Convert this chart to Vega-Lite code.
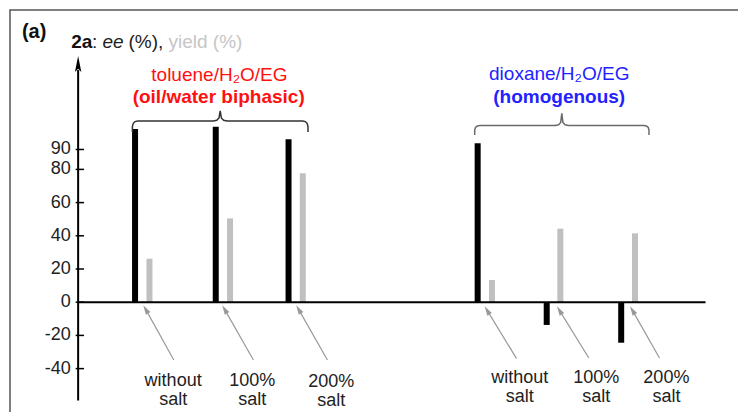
{
  "$schema": "https://vega.github.io/schema/vega-lite/v6.json",
  "width": 740,
  "height": 410,
  "padding": {"left": 10, "top": 10, "right": 0, "bottom": 0},
  "background": "white",
  "config": {"view": {"stroke": "#555555", "strokeWidth": 1.5}, "font": "Liberation Sans"},
  "data": {"values": [{}]},
  "datasets": {
    "bars": [
      {"solvent": "toluene/H2O/EG", "cond": "without salt", "metric": "ee", "value": 104.3, "pos": 57.7},
      {"solvent": "toluene/H2O/EG", "cond": "without salt", "metric": "yield", "value": 26.2, "pos": 72.3},
      {"solvent": "toluene/H2O/EG", "cond": "100% salt", "metric": "ee", "value": 105.7, "pos": 139.5},
      {"solvent": "toluene/H2O/EG", "cond": "100% salt", "metric": "yield", "value": 50.5, "pos": 154},
      {"solvent": "toluene/H2O/EG", "cond": "200% salt", "metric": "ee", "value": 98.1, "pos": 213.3},
      {"solvent": "toluene/H2O/EG", "cond": "200% salt", "metric": "yield", "value": 77.7, "pos": 227.7},
      {"solvent": "dioxane/H2O/EG", "cond": "without salt", "metric": "ee", "value": 95.7, "pos": 405},
      {"solvent": "dioxane/H2O/EG", "cond": "without salt", "metric": "yield", "value": 13.4, "pos": 419.5},
      {"solvent": "dioxane/H2O/EG", "cond": "100% salt", "metric": "ee", "value": -13.7, "pos": 475},
      {"solvent": "dioxane/H2O/EG", "cond": "100% salt", "metric": "yield", "value": 44.3, "pos": 488.8},
      {"solvent": "dioxane/H2O/EG", "cond": "200% salt", "metric": "ee", "value": -24.4, "pos": 550.5},
      {"solvent": "dioxane/H2O/EG", "cond": "200% salt", "metric": "yield", "value": 41.5, "pos": 564.5}
    ],
    "ticks": [
      {"v": -40, "t": "-40"}, {"v": -20, "t": "-20"}, {"v": 0, "t": "0"}, {"v": 20, "t": "20"},
      {"v": 40, "t": "40"}, {"v": 60, "t": "60"}, {"v": 80, "t": "80"}, {"v": 92, "t": "90"}
    ],
    "arrows": [
      {"x": 97, "y": -34.8, "x2": 68.5, "y2": -4.3},
      {"x": 177.7, "y": -34.8, "x2": 148.5, "y2": -4.3},
      {"x": 252.7, "y": -34.8, "x2": 223.5, "y2": -4.3},
      {"x": 444.3, "y": -33.8, "x2": 414.6, "y2": -4.9},
      {"x": 517.7, "y": -33.6, "x2": 487.9, "y2": -4.9},
      {"x": 589.3, "y": -33.6, "x2": 561.9, "y2": -4.9}
    ],
    "labels": [
      {"t": "without\nsalt", "x": 96.3, "y": -50.7},
      {"t": "100%\nsalt", "x": 176.5, "y": -50.7},
      {"t": "200%\nsalt", "x": 256.5, "y": -51.3},
      {"t": "without\nsalt", "x": 447.7, "y": -48.9},
      {"t": "100%\nsalt", "x": 525.3, "y": -48.9},
      {"t": "200%\nsalt", "x": 596.3, "y": -48.9}
    ],
    "braceL": [
      {"i": 0, "x": 55, "y": 102.5}, {"i": 1, "x": 55, "y": 105.8}, {"i": 2, "x": 55.8, "y": 107.6},
      {"i": 3, "x": 57.6, "y": 108.8}, {"i": 4, "x": 60.5, "y": 109.16}, {"i": 5, "x": 137, "y": 109.16},
      {"i": 6, "x": 140.5, "y": 109.6}, {"i": 7, "x": 142.8, "y": 111}, {"i": 8, "x": 144, "y": 115.2},
      {"i": 9, "x": 145.2, "y": 111}, {"i": 10, "x": 147.5, "y": 109.6}, {"i": 11, "x": 151, "y": 109.16},
      {"i": 12, "x": 227.5, "y": 109.16}, {"i": 13, "x": 230.4, "y": 108.8}, {"i": 14, "x": 232.2, "y": 107.6},
      {"i": 15, "x": 233, "y": 105.8}, {"i": 16, "x": 233, "y": 102.5}
    ],
    "braceR": [
      {"i": 0, "x": 402, "y": 100.7}, {"i": 1, "x": 402, "y": 103.6}, {"i": 2, "x": 402.8, "y": 105.3},
      {"i": 3, "x": 404.6, "y": 106.1}, {"i": 4, "x": 407.5, "y": 106.4}, {"i": 5, "x": 483.5, "y": 106.4},
      {"i": 6, "x": 487, "y": 106.9}, {"i": 7, "x": 489.2, "y": 108.3}, {"i": 8, "x": 490.3, "y": 113.7},
      {"i": 9, "x": 491.4, "y": 108.3}, {"i": 10, "x": 493.6, "y": 106.9}, {"i": 11, "x": 497, "y": 106.4},
      {"i": 12, "x": 573.2, "y": 106.4}, {"i": 13, "x": 576.1, "y": 106.1}, {"i": 14, "x": 577.9, "y": 105.3},
      {"i": 15, "x": 578.7, "y": 103.6}, {"i": 16, "x": 578.7, "y": 100.7}
    ]
  },
  "layer": [
    {
      "data": {"name": "bars"},
      "mark": {"type": "bar", "size": 6, "orient": "vertical"},
      "encoding": {
        "x": {"field": "pos", "type": "quantitative", "scale": {"domain": [-64, 676], "nice": false, "zero": false}, "axis": null},
        "y": {"field": "value", "type": "quantitative", "scale": {"domain": [-70.96, 176.02], "nice": false, "zero": false}, "axis": null},
        "y2": {"datum": 0},
        "color": {"field": "metric", "type": "nominal", "scale": {"domain": ["ee", "yield"], "range": ["#000000", "#c0c0c0"]}, "legend": null}
      }
    },
    {
      "mark": {"type": "rule", "color": "#000000", "strokeWidth": 2},
      "encoding": {
        "x": {"datum": 0, "type": "quantitative", "scale": {"domain": [-64, 676], "nice": false, "zero": false}, "axis": null},
        "y": {"datum": -59.2, "type": "quantitative", "scale": {"domain": [-70.96, 176.02], "nice": false, "zero": false}, "axis": null},
        "y2": {"datum": 139.9}
      }
    },
    {
      "mark": {"type": "rule", "color": "#000000", "strokeWidth": 2},
      "encoding": {
        "x": {"datum": 0, "type": "quantitative", "scale": {"domain": [-64, 676], "nice": false, "zero": false}, "axis": null},
        "x2": {"datum": 636},
        "y": {"datum": 0, "type": "quantitative", "scale": {"domain": [-70.96, 176.02], "nice": false, "zero": false}, "axis": null}
      }
    },
    {
      "mark": {"type": "point", "shape": "M0,-1L0.4,1L0,0.6L-0.4,1Z", "size": 256, "filled": true, "color": "#000000", "opacity": 1, "strokeWidth": 0},
      "encoding": {
        "x": {"datum": 0, "type": "quantitative", "scale": {"domain": [-64, 676], "nice": false, "zero": false}, "axis": null},
        "y": {"datum": 143.5, "type": "quantitative", "scale": {"domain": [-70.96, 176.02], "nice": false, "zero": false}, "axis": null}
      }
    },
    {
      "data": {"name": "ticks"},
      "mark": {"type": "rule", "color": "#000000", "strokeWidth": 1.5},
      "encoding": {
        "x": {"datum": -2.5, "type": "quantitative", "scale": {"domain": [-64, 676], "nice": false, "zero": false}, "axis": null},
        "x2": {"datum": 6},
        "y": {"field": "v", "type": "quantitative", "scale": {"domain": [-70.96, 176.02], "nice": false, "zero": false}, "axis": null}
      }
    },
    {
      "data": {"name": "ticks"},
      "mark": {"type": "text", "font": "Liberation Sans", "fontSize": 18, "color": "#222222", "align": "right", "baseline": "middle", "dx": -5},
      "encoding": {
        "x": {"datum": -2.5, "type": "quantitative", "scale": {"domain": [-64, 676], "nice": false, "zero": false}, "axis": null},
        "y": {"field": "v", "type": "quantitative", "scale": {"domain": [-70.96, 176.02], "nice": false, "zero": false}, "axis": null},
        "text": {"field": "t", "type": "nominal"}
      }
    },
    {
      "data": {"name": "braceL"},
      "mark": {"type": "line", "color": "#333333", "strokeWidth": 1.5},
      "encoding": {
        "x": {"field": "x", "type": "quantitative", "scale": {"domain": [-64, 676], "nice": false, "zero": false}, "axis": null},
        "y": {"field": "y", "type": "quantitative", "scale": {"domain": [-70.96, 176.02], "nice": false, "zero": false}, "axis": null},
        "order": {"field": "i", "type": "quantitative"}
      }
    },
    {
      "data": {"name": "braceR"},
      "mark": {"type": "line", "color": "#6a6a6a", "strokeWidth": 1.5},
      "encoding": {
        "x": {"field": "x", "type": "quantitative", "scale": {"domain": [-64, 676], "nice": false, "zero": false}, "axis": null},
        "y": {"field": "y", "type": "quantitative", "scale": {"domain": [-70.96, 176.02], "nice": false, "zero": false}, "axis": null},
        "order": {"field": "i", "type": "quantitative"}
      }
    },
    {
      "data": {"name": "arrows"},
      "mark": {"type": "rule", "color": "#999999", "strokeWidth": 1.2},
      "encoding": {
        "x": {"field": "x", "type": "quantitative", "scale": {"domain": [-64, 676], "nice": false, "zero": false}, "axis": null},
        "y": {"field": "y", "type": "quantitative", "scale": {"domain": [-70.96, 176.02], "nice": false, "zero": false}, "axis": null},
        "x2": {"field": "x2"},
        "y2": {"field": "y2"}
      }
    },
    {
      "data": {"name": "arrows"},
      "mark": {"type": "point", "shape": "M0,-1L0.55,1L-0.55,1Z", "size": 90, "filled": true, "color": "#999999", "opacity": 1, "strokeWidth": 0, "angle": -31},
      "encoding": {
        "x": {"field": "x2", "type": "quantitative", "scale": {"domain": [-64, 676], "nice": false, "zero": false}, "axis": null},
        "y": {"field": "y2", "type": "quantitative", "scale": {"domain": [-70.96, 176.02], "nice": false, "zero": false}, "axis": null}
      }
    },
    {
      "data": {"name": "labels"},
      "mark": {"type": "text", "font": "Liberation Sans", "fontSize": 18, "color": "#222222", "align": "center", "baseline": "alphabetic", "lineBreak": "\n", "lineHeight": 19},
      "encoding": {
        "x": {"field": "x", "type": "quantitative", "scale": {"domain": [-64, 676], "nice": false, "zero": false}, "axis": null},
        "y": {"field": "y", "type": "quantitative", "scale": {"domain": [-70.96, 176.02], "nice": false, "zero": false}, "axis": null},
        "text": {"field": "t", "type": "nominal"}
      }
    },
    {
      "data": {"values": [{"t": "(a)", "x": -57, "y": 159.4}]},
      "mark": {"type": "text", "font": "Liberation Sans", "fontSize": 20, "fontWeight": "bold", "color": "#111111", "align": "left", "baseline": "alphabetic"},
      "encoding": {
        "x": {"field": "x", "type": "quantitative", "scale": {"domain": [-64, 676], "nice": false, "zero": false}, "axis": null},
        "y": {"field": "y", "type": "quantitative", "scale": {"domain": [-70.96, 176.02], "nice": false, "zero": false}, "axis": null},
        "text": {"field": "t", "type": "nominal"}
      }
    },
    {
      "data": {"values": [{"t": "2a", "x": -7, "y": 152.9}]},
      "mark": {"type": "text", "font": "Liberation Sans", "fontSize": 19, "fontWeight": "bold", "color": "#111111", "align": "left", "baseline": "alphabetic"},
      "encoding": {
        "x": {"field": "x", "type": "quantitative", "scale": {"domain": [-64, 676], "nice": false, "zero": false}, "axis": null},
        "y": {"field": "y", "type": "quantitative", "scale": {"domain": [-70.96, 176.02], "nice": false, "zero": false}, "axis": null},
        "text": {"field": "t", "type": "nominal"}
      }
    },
    {
      "data": {"values": [{"t": ":", "x": 14.1, "y": 152.9}, {"t": "(%),", "x": 51.1, "y": 152.9}]},
      "mark": {"type": "text", "font": "Liberation Sans", "fontSize": 19, "color": "#222222", "align": "left", "baseline": "alphabetic"},
      "encoding": {
        "x": {"field": "x", "type": "quantitative", "scale": {"domain": [-64, 676], "nice": false, "zero": false}, "axis": null},
        "y": {"field": "y", "type": "quantitative", "scale": {"domain": [-70.96, 176.02], "nice": false, "zero": false}, "axis": null},
        "text": {"field": "t", "type": "nominal"}
      }
    },
    {
      "data": {"values": [{"t": "ee", "x": 24.7, "y": 152.9}]},
      "mark": {"type": "text", "font": "Liberation Sans", "fontSize": 19, "fontStyle": "italic", "color": "#222222", "align": "left", "baseline": "alphabetic"},
      "encoding": {
        "x": {"field": "x", "type": "quantitative", "scale": {"domain": [-64, 676], "nice": false, "zero": false}, "axis": null},
        "y": {"field": "y", "type": "quantitative", "scale": {"domain": [-70.96, 176.02], "nice": false, "zero": false}, "axis": null},
        "text": {"field": "t", "type": "nominal"}
      }
    },
    {
      "data": {"values": [{"t": "yield (%)", "x": 91.6, "y": 152.9}]},
      "mark": {"type": "text", "font": "Liberation Sans", "fontSize": 19, "color": "#c6c6c6", "align": "left", "baseline": "alphabetic"},
      "encoding": {
        "x": {"field": "x", "type": "quantitative", "scale": {"domain": [-64, 676], "nice": false, "zero": false}, "axis": null},
        "y": {"field": "y", "type": "quantitative", "scale": {"domain": [-70.96, 176.02], "nice": false, "zero": false}, "axis": null},
        "text": {"field": "t", "type": "nominal"}
      }
    },
    {
      "data": {"values": [{"t": "toluene/H₂O/EG", "x": 143.2, "y": 133.3}]},
      "mark": {"type": "text", "font": "Liberation Sans", "fontSize": 19, "color": "#ff1010", "align": "center", "baseline": "alphabetic"},
      "encoding": {
        "x": {"field": "x", "type": "quantitative", "scale": {"domain": [-64, 676], "nice": false, "zero": false}, "axis": null},
        "y": {"field": "y", "type": "quantitative", "scale": {"domain": [-70.96, 176.02], "nice": false, "zero": false}, "axis": null},
        "text": {"field": "t", "type": "nominal"}
      }
    },
    {
      "data": {"values": [{"t": "(oil/water biphasic)", "x": 142.5, "y": 119.7}]},
      "mark": {"type": "text", "font": "Liberation Sans", "fontSize": 19, "fontWeight": "bold", "color": "#ff1010", "align": "center", "baseline": "alphabetic"},
      "encoding": {
        "x": {"field": "x", "type": "quantitative", "scale": {"domain": [-64, 676], "nice": false, "zero": false}, "axis": null},
        "y": {"field": "y", "type": "quantitative", "scale": {"domain": [-70.96, 176.02], "nice": false, "zero": false}, "axis": null},
        "text": {"field": "t", "type": "nominal"}
      }
    },
    {
      "data": {"values": [{"t": "dioxane/H₂O/EG", "x": 487.7, "y": 133.9}]},
      "mark": {"type": "text", "font": "Liberation Sans", "fontSize": 19, "color": "#2222ff", "align": "center", "baseline": "alphabetic"},
      "encoding": {
        "x": {"field": "x", "type": "quantitative", "scale": {"domain": [-64, 676], "nice": false, "zero": false}, "axis": null},
        "y": {"field": "y", "type": "quantitative", "scale": {"domain": [-70.96, 176.02], "nice": false, "zero": false}, "axis": null},
        "text": {"field": "t", "type": "nominal"}
      }
    },
    {
      "data": {"values": [{"t": "(homogenous)", "x": 487.7, "y": 120}]},
      "mark": {"type": "text", "font": "Liberation Sans", "fontSize": 19, "fontWeight": "bold", "color": "#2222ff", "align": "center", "baseline": "alphabetic"},
      "encoding": {
        "x": {"field": "x", "type": "quantitative", "scale": {"domain": [-64, 676], "nice": false, "zero": false}, "axis": null},
        "y": {"field": "y", "type": "quantitative", "scale": {"domain": [-70.96, 176.02], "nice": false, "zero": false}, "axis": null},
        "text": {"field": "t", "type": "nominal"}
      }
    }
  ]
}
